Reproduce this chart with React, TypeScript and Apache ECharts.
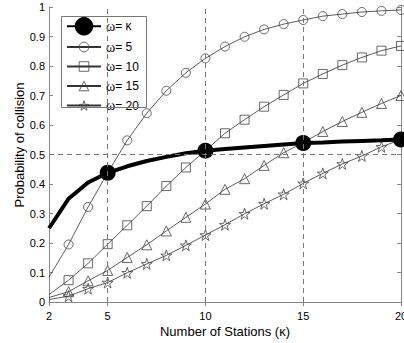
import React, { useEffect, useRef } from "react";
import * as echarts from "echarts";

const stations = [2, 3, 4, 5, 6, 7, 8, 9, 10, 11, 12, 13, 14, 15, 16, 17, 18, 19, 20];
const omegaK = [0.25, 0.35, 0.405, 0.438, 0.46, 0.478, 0.492, 0.504, 0.513, 0.519, 0.524, 0.529, 0.534, 0.539, 0.541, 0.544, 0.546, 0.548, 0.551];
const omega5 = [0.084, 0.195, 0.322, 0.438, 0.548, 0.64, 0.716, 0.777, 0.826, 0.866, 0.899, 0.924, 0.942, 0.956, 0.969, 0.976, 0.983, 0.987, 0.99];
const omega10 = [0.025, 0.074, 0.131, 0.196, 0.26, 0.325, 0.393, 0.456, 0.513, 0.572, 0.618, 0.662, 0.702, 0.741, 0.773, 0.803, 0.829, 0.852, 0.868];
const omega15 = [0.015, 0.035, 0.072, 0.107, 0.151, 0.194, 0.241, 0.287, 0.332, 0.382, 0.418, 0.463, 0.506, 0.54, 0.578, 0.612, 0.643, 0.673, 0.7];
const omega20 = [0.008, 0.02, 0.045, 0.066, 0.099, 0.129, 0.158, 0.192, 0.227, 0.262, 0.299, 0.333, 0.365, 0.402, 0.436, 0.468, 0.495, 0.526, 0.551];
const bigMarkerAt = [5, 10, 15, 20];
const xTicks = [2, 5, 10, 15, 20];
const xGrid = [5, 10, 15];
const yGrid = [0.5];
const names = ["ω= κ", "ω= 5", "ω= 10", "ω= 15", "ω= 20"];

const STAR = "path://M50,0 L61.8,35.1 L98.9,35.1 L68.9,56.7 L80.3,91.9 L50,70 L19.7,91.9 L31.1,56.7 L1.1,35.1 L38.2,35.1 Z";
const FONT = "Liberation Sans";

const legendText = {
  fontSize: 12,
  color: "#000",
  fontFamily: FONT,
  rich: {
    g: { fontFamily: "Liberation Serif", fontSize: 14, color: "#000" },
    t: { fontFamily: FONT, fontSize: 12, color: "#000" },
  },
};
const legendFormatter = (name: string) => `{g|ω}{t|${name.slice(1)}}`;

export default function App() {
  const ref = useRef<HTMLDivElement>(null);
  useEffect(() => {
    const chart = echarts.init(ref.current!, null, { renderer: "svg" });
    const thin = (name: string, vals: number[], symbol: string, size: number) => ({
      name,
      type: "line",
      z: 3,
      showAllSymbol: true,
      symbol,
      symbolSize: size,
      lineStyle: { color: "#333", width: 0.8 },
      itemStyle: { color: "transparent", borderColor: "#444", borderWidth: 0.8 },
      data: stations.map((x, i) => (x === 2 ? { value: [x, vals[i]], symbol: "none" } : { value: [x, vals[i]] })),
    });
    chart.setOption({
      animation: false,
      textStyle: { fontFamily: FONT },
      grid: { left: 49, right: 3, top: 7, bottom: 41, outerBoundsMode: "none", containLabel: false },
      xAxis: [
        {
          type: "value",
          min: 2,
          max: 20,
          name: "Number of Stations (κ)",
          nameLocation: "middle",
          nameGap: 23,
          nameMoveOverlap: false,
          nameTextStyle: { fontSize: 13, color: "#000", fontFamily: FONT },
          axisLine: { show: true, lineStyle: { color: "#888", width: 1 } },
          axisTick: { inside: true, length: 4, customValues: xTicks, lineStyle: { color: "#888" } },
          axisLabel: { customValues: xTicks, fontSize: 11, color: "#000", margin: 8, fontFamily: FONT },
          splitLine: { show: false },
        },
        {
          type: "value",
          min: 2,
          max: 20,
          position: "top",
          axisLine: { show: true, lineStyle: { color: "#888", width: 1 } },
          axisTick: { inside: true, length: 4, customValues: xTicks, lineStyle: { color: "#888" } },
          axisLabel: { show: false },
          splitLine: { show: false },
        },
      ],
      yAxis: [
        {
          type: "value",
          min: 0,
          max: 1,
          interval: 0.1,
          name: "Probability of collision",
          nameLocation: "middle",
          nameGap: 23,
          nameMoveOverlap: false,
          nameTextStyle: { fontSize: 13, color: "#000", fontFamily: FONT, padding: [0, 0, 0, 19] },
          axisLine: { show: true, lineStyle: { color: "#888", width: 1 } },
          axisTick: { inside: true, length: 4, lineStyle: { color: "#888" } },
          axisLabel: { fontSize: 11, color: "#000", margin: 4, fontFamily: FONT },
          splitLine: { show: false },
        },
        {
          type: "value",
          min: 0,
          max: 1,
          interval: 0.1,
          position: "right",
          axisLine: { show: true, lineStyle: { color: "#888", width: 1 } },
          axisTick: { inside: true, length: 4, lineStyle: { color: "#888" } },
          axisLabel: { show: false },
          splitLine: { show: false },
        },
      ],
      legend: [
        {
          data: [names[0]],
          left: 66,
          top: 17,
          orient: "vertical",
          itemWidth: 34,
          itemHeight: 23,
          itemGap: 0,
          padding: 0,
          formatter: legendFormatter,
          textStyle: legendText,
          itemStyle: { borderWidth: 0 },
        },
        {
          data: names.slice(1),
          left: 66,
          top: 40,
          orient: "vertical",
          itemWidth: 34,
          itemHeight: 12,
          itemGap: 5.5,
          padding: 0,
          formatter: legendFormatter,
          textStyle: legendText,
          itemStyle: { borderWidth: 0.8 },
        },
      ],
      graphic: [
        {
          type: "rect",
          left: 61,
          top: 16,
          shape: { width: 85, height: 91 },
          style: { fill: "transparent", stroke: "#777", lineWidth: 1 },
          z: 10,
          silent: true,
        },
      ],
      series: [
        {
          name: "grid",
          type: "line",
          data: [],
          z: 1,
          markLine: {
            silent: true,
            symbol: "none",
            label: { show: false },
            lineStyle: { color: "#777", type: [5, 4], width: 1 },
            data: [...xGrid.map((v) => ({ xAxis: v })), ...yGrid.map((v) => ({ yAxis: v }))],
          },
        },
        {
          name: names[0],
          type: "line",
          z: 4,
          showAllSymbol: true,
          symbol: "circle",
          symbolSize: 16,
          lineStyle: { color: "#000", width: 4 },
          itemStyle: { color: "#000" },
          data: stations.map((x, i) =>
            bigMarkerAt.includes(x) ? { value: [x, omegaK[i]] } : { value: [x, omegaK[i]], symbol: "none" }
          ),
        },
        thin(names[1], omega5, "circle", 9),
        thin(names[2], omega10, "rect", 9),
        thin(names[3], omega15, "triangle", 10),
        thin(names[4], omega20, STAR, 11),
      ],
    });
    return () => chart.dispose();
  }, []);
  return <div ref={ref} style={{ width: 404, height: 343, position: "absolute", left: 0, top: 0 }} />;
}
